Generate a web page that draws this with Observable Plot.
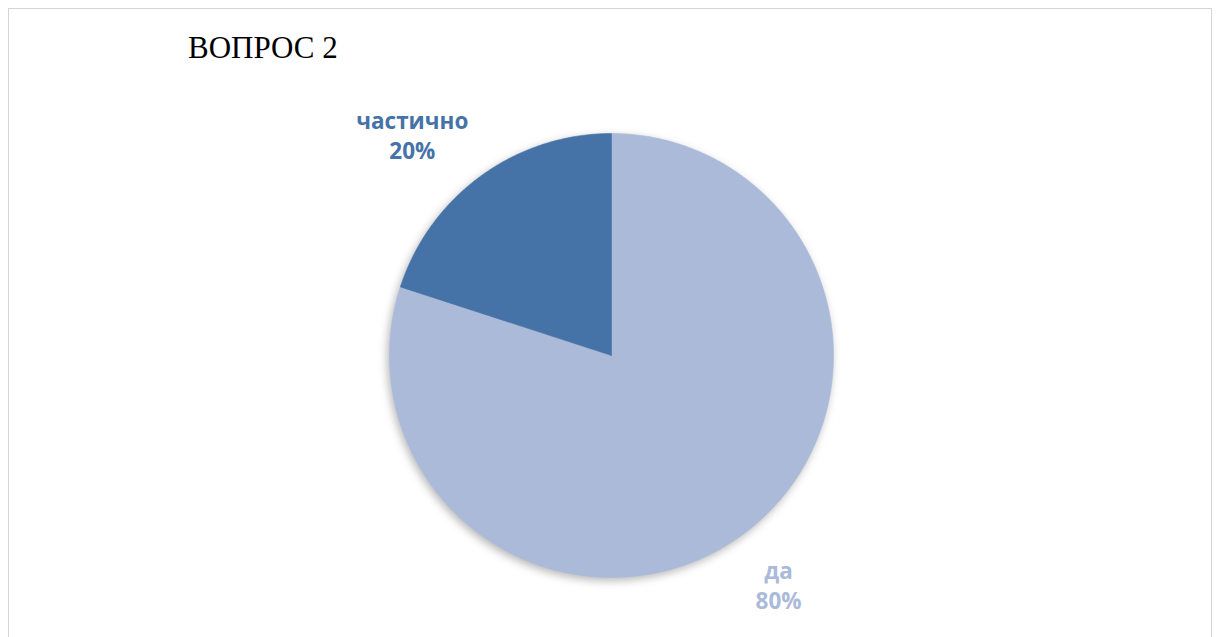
<!DOCTYPE html>
<html>
<head>
<meta charset="utf-8">
<script src="https://cdn.jsdelivr.net/npm/d3@7"></script>
<script src="https://cdn.jsdelivr.net/npm/@observablehq/plot@0.6"></script>
<style>
  html, body { margin: 0; padding: 0; background: #fff; }
  #wrap { position: relative; width: 1216px; height: 637px; overflow: hidden; }
  #frame { position: absolute; left: 8px; top: 8px; width: 1204px; height: 660px; border: 1px solid #d4d4d4; box-sizing: border-box; }
  #title { position: absolute; left: 188px; top: 33px; font-family: "Liberation Serif", "Times New Roman", serif; font-size: 31px; line-height: 30px; color: #000; white-space: nowrap; }
  #chart { position: absolute; left: 0; top: 0; }
</style>
</head>
<body>
<div id="wrap">
  <div id="frame"></div>
  <div id="chart"></div>
  <div id="title">ВОПРОС 2</div>
</div>
<script>
const categories = ["да", "частично"];
const values = [80, 20];
const percentLabels = ["80%", "20%"];
const colors = ["#abbad8", "#4673a7"];

// pie geometry from the data (start at 12 o'clock, clockwise)
const arcs = d3.pie().sort(null).value(d => d)(values);
const sliceRows = [];
arcs.forEach((a, i) => {
  const name = categories[i];
  sliceRows.push({name, x: 0, y: 0});
  const n = Math.max(2, Math.ceil((a.endAngle - a.startAngle) / (Math.PI / 360)));
  for (let k = 0; k <= n; k++) {
    const t = a.startAngle + (a.endAngle - a.startAngle) * k / n;
    sliceRows.push({name, x: Math.sin(t), y: Math.cos(t)});
  }
  sliceRows.push({name, x: 0, y: 0});
});

const labelRows = arcs.map((a, i) => {
  const mid = (a.startAngle + a.endAngle) / 2;
  return {name: categories[i], text: categories[i] + "\n" + percentLabels[i], ux: Math.sin(mid), uy: Math.cos(mid)};
});

const chart = Plot.plot({
  width: 1216,
  height: 637,
  marginLeft: 389,
  marginRight: 383,
  marginTop: 133,
  marginBottom: 60,
  x: {domain: [-1, 1], axis: null},
  y: {domain: [-1, 1], axis: null},
  color: {domain: categories, range: colors},
  style: {background: "transparent", overflow: "visible"},
  marks: [
    Plot.line(sliceRows, {x: "x", y: "y", z: "name", fill: "name", stroke: "name", strokeWidth: 0.6, curve: "linear-closed"}),
    Plot.text(labelRows.filter(d => d.name === "да"), {
      x: d => d.ux * 1.28, y: d => d.uy * 1.28, text: "text", fill: "name", dy: -1,
      fontFamily: "Open Sans", fontWeight: "bold", fontSize: 22.5, lineHeight: 1.35, textAnchor: "middle"
    }),
    Plot.text(labelRows.filter(d => d.name === "частично"), {
      x: d => d.ux * 1.22, y: d => d.uy * 1.22, text: "text", fill: "name", dx: -40, dy: -2,
      fontFamily: "Open Sans", fontWeight: "bold", fontSize: 22.5, lineHeight: 1.35, textAnchor: "middle"
    })
  ]
});
const g = chart.querySelector('g[aria-label="line"]');
if (g) g.style.filter = "drop-shadow(-2px 3px 4px rgba(0,0,0,0.28))";
document.getElementById("chart").appendChild(chart);
</script>
</body>
</html>
